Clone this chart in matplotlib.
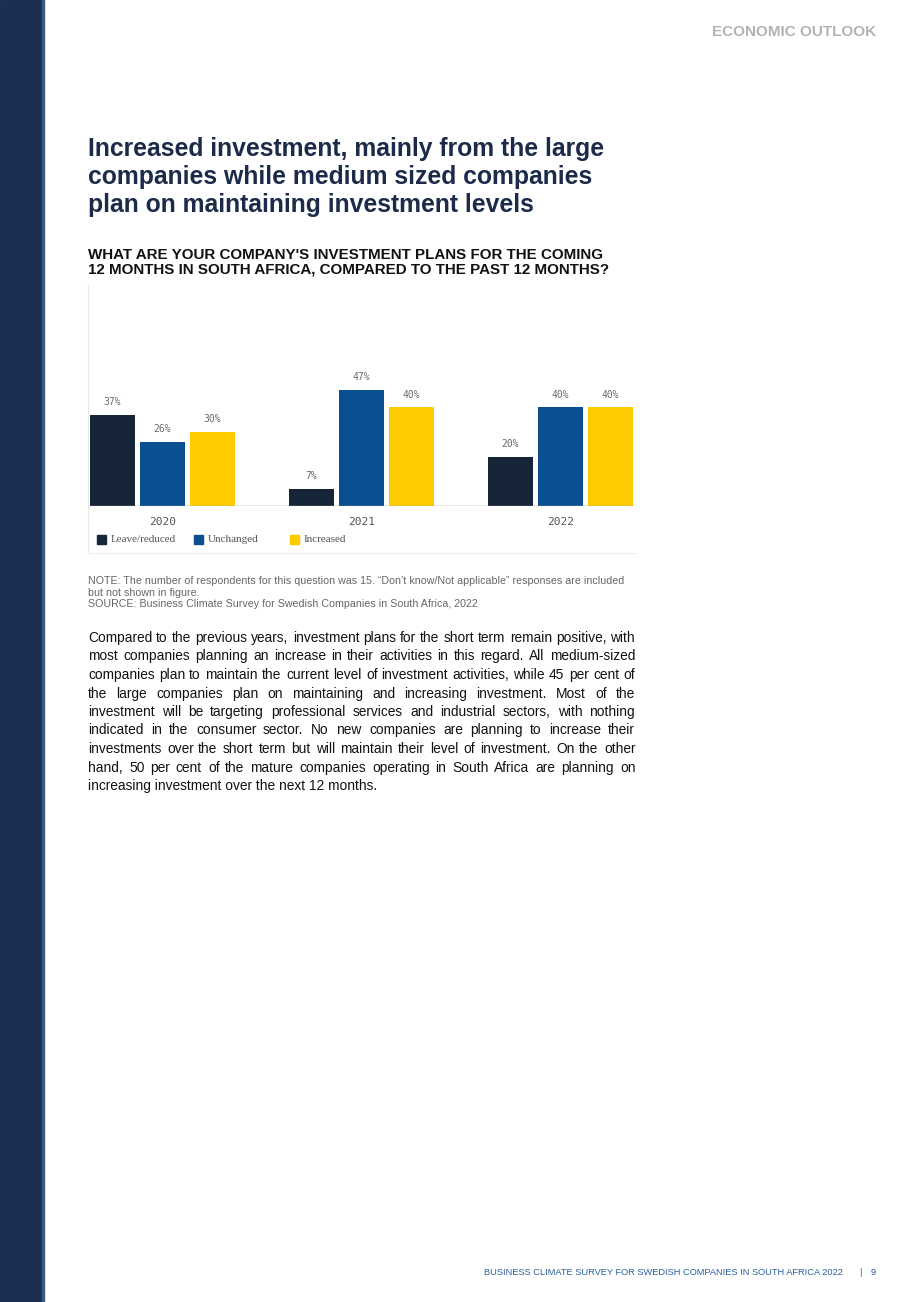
import matplotlib
matplotlib.use("Agg")
import matplotlib.pyplot as plt
from matplotlib.patches import Rectangle
import numpy as np

# data
years = ["2020", "2021", "2022"]
series = ["Leave/reduced", "Unchanged", "Increased"]
leave_reduced = [37, 7, 20]
unchanged = [26, 47, 40]
increased = [30, 40, 40]
colors = ["#172538", "#0a4f8f", "#fecb00"]

title_lines = [
    "Increased investment, mainly from the large",
    "companies while medium sized companies",
    "plan on maintaining investment levels",
]
subtitle_lines = [
    "WHAT ARE YOUR COMPANY'S INVESTMENT PLANS FOR THE COMING",
    "12 MONTHS IN SOUTH AFRICA, COMPARED TO THE PAST 12 MONTHS?",
]
note_lines = [
    "NOTE: The number of respondents for this question was 15. \u201cDon\u2019t know/Not applicable\u201d responses are included",
    "but not shown in figure.",
    "SOURCE: Business Climate Survey for Swedish Companies in South Africa, 2022",
]
body_lines = [
    "Compared to the previous years, investment plans for the short term remain positive, with",
    "most companies planning an increase in their activities in this regard. All medium-sized",
    "companies plan to maintain the current level of investment activities, while 45 per cent of",
    "the large companies plan on maintaining and increasing investment. Most of the",
    "investment will be targeting professional services and industrial sectors, with nothing",
    "indicated in the consumer sector. No new companies are planning to increase their",
    "investments over the short term but will maintain their level of investment. On the other",
    "hand, 50 per cent of the mature companies operating in South Africa are planning on",
    "increasing investment over the next 12 months.",
]

W, H = 920, 1302
fig = plt.figure(figsize=(W / 100, H / 100), dpi=100)
fig.patch.set_facecolor("white")


def fx(x):
    return x / W


def fy(y):
    return 1 - y / H


def ptext(x, y, s, **kw):
    return fig.text(fx(x), fy(y), s, **kw)


sans = "Liberation Sans"

# left navy strip
fig.patches.append(Rectangle((0, 0), fx(42), 1, transform=fig.transFigure,
                             color="#1b2f52", zorder=0))
fig.patches.append(Rectangle((fx(42), 0), fx(2), 1, transform=fig.transFigure,
                             color="#3b5a86", zorder=0))

# header / footer
ptext(876, 36, "ECONOMIC OUTLOOK", ha="right", va="baseline", fontsize=11,
      fontweight="bold", color="#b3b3b3", family=sans)
ptext(843, 1275, "BUSINESS CLIMATE SURVEY FOR SWEDISH COMPANIES IN SOUTH AFRICA 2022",
      ha="right", va="baseline", fontsize=6.65, color="#2b5f9e", family=sans)
ptext(860, 1275, "|", ha="center", va="baseline", fontsize=6.65, color="#2b5f9e", family=sans)
ptext(876, 1275, "9", ha="right", va="baseline", fontsize=6.65, color="#2b5f9e", family=sans)

# title
for i, line in enumerate(title_lines):
    ptext(88, 156 + 28 * i, line, ha="left", va="baseline", fontsize=17.8,
          fontweight="bold", color="#1c2b4a", family=sans)

for i, line in enumerate(subtitle_lines):
    ptext(88, 259 + 15 * i, line, ha="left", va="baseline", fontsize=10.9,
          fontweight="bold", color="#111111", family=sans)

# chart
ax = fig.add_axes([fx(88), fy(506), fx(636) - fx(88), fy(290) - fy(506)])
x = np.arange(len(years))
step, width = 0.251, 0.226
for k, (vals, col) in enumerate(zip([leave_reduced, unchanged, increased], colors)):
    xs = x + (k - 1) * step
    ax.bar(xs, vals, width=width, color=col, label=series[k], zorder=2)
    for xi, v in zip(xs, vals):
        ax.text(xi, v + 3.0, f"{v}%", ha="center", va="bottom", fontsize=7,
                color="#6a6a6a", family="DejaVu Sans Mono")
ax.set_xlim(-0.374, 2.380)
ax.set_ylim(0, 87.4)
ax.axhline(0, color="#9a9a9a", lw=1, zorder=3)
for s in ax.spines.values():
    s.set_visible(False)
ax.set_yticks([])
ax.set_xticks(x)
ax.set_xticklabels(years, family="DejaVu Sans Mono", fontsize=8, color="#555555")
ax.tick_params(axis="x", length=0, pad=8)
ax.patch.set_alpha(0)

# chart frame (thin light border left and bottom)
fig.add_artist(plt.Line2D([fx(88), fx(88)], [fy(285), fy(553)], color="#e6e6e6", lw=0.8))
fig.add_artist(plt.Line2D([fx(88), fx(636)], [fy(553), fy(553)], color="#ededed", lw=0.8))

# legend
for (lx, name, col) in zip([97, 194, 290], series, colors):
    fig.patches.append(Rectangle((fx(lx), fy(544)), fx(9), 9 / H,
                                 transform=fig.transFigure, color=col))
    ptext(lx + 14, 540, name, ha="left", va="center", fontsize=8,
          color="#555555", family="Liberation Serif")

# note
for i, line in enumerate(note_lines):
    ptext(88, 584 + 11.7 * i, line, ha="left", va="baseline", fontsize=7.7,
          color="#666666", family=sans)

# body, justified
renderer = fig.canvas.get_renderer()
left, right = 88, 635
for i, line in enumerate(body_lines):
    y = round(642 + 18.5 * i)
    words = line.split(" ")
    if i == len(body_lines) - 1:
        ptext(left, y, line, ha="left", va="baseline", fontsize=9.9,
              color="#111111", family=sans)
        continue
    texts = [ptext(left, y, w, ha="left", va="baseline", fontsize=9.9,
                   color="#111111", family=sans) for w in words]
    widths = [t.get_window_extent(renderer).width for t in texts]
    gap = (right - left - sum(widths)) / (len(words) - 1)
    cur = left
    for t, wd in zip(texts, widths):
        t.set_x(fx(round(cur)))
        cur += wd + gap

fig.savefig("out.png", dpi=100)
